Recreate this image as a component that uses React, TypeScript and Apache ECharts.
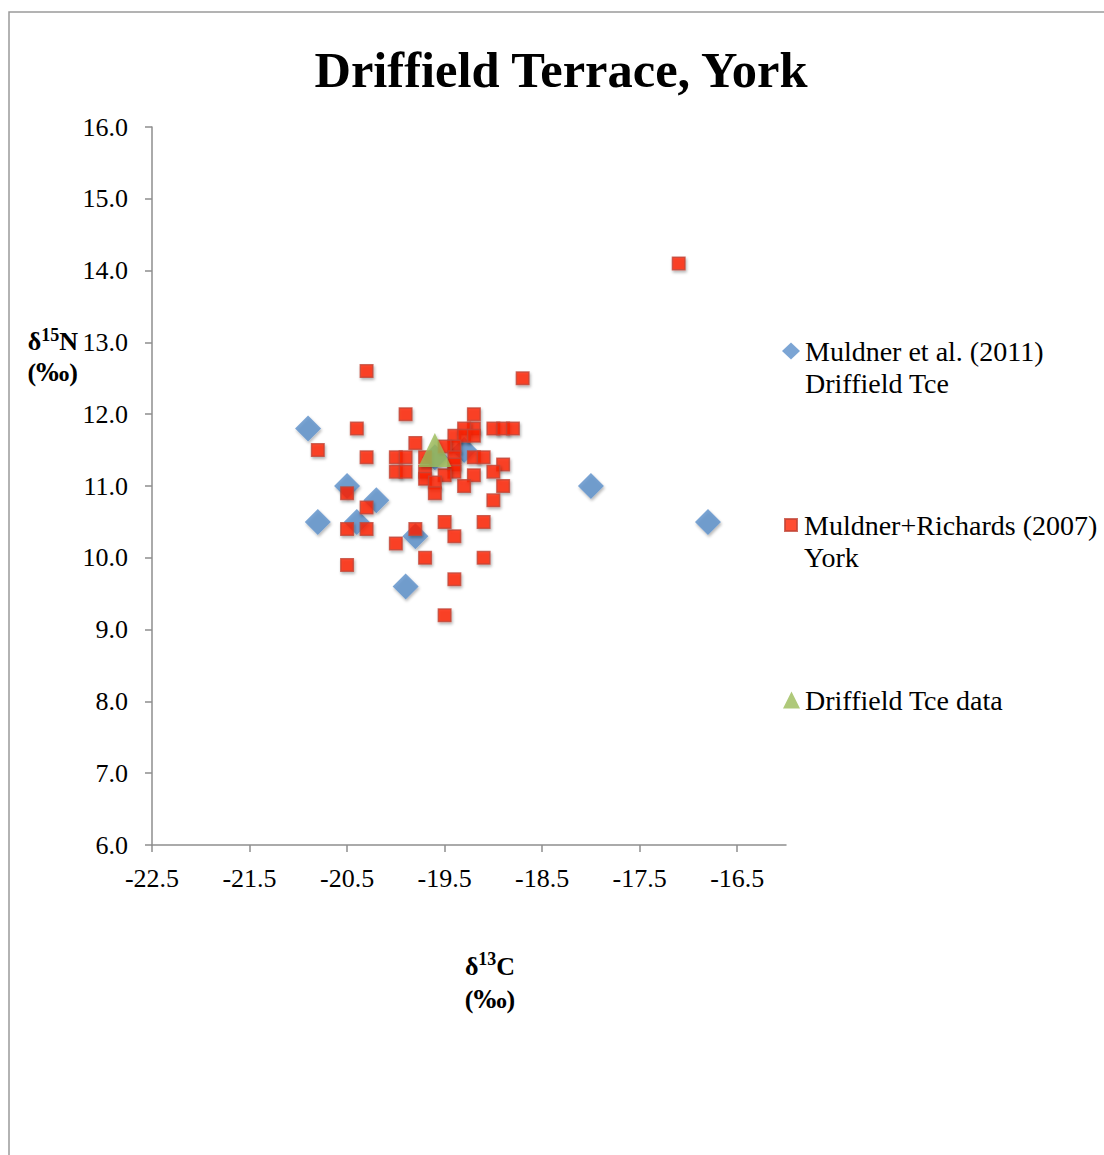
import React, { useEffect, useRef } from "react";
import * as echarts from "echarts";

const SERIF = "'Liberation Serif', 'Times New Roman', serif";
const WIDE_SERIF = "'DejaVu Serif', serif";

const seriesNames = ["Muldner et al. (2011) Driffield Tce", "Muldner+Richards (2007) York", "Driffield Tce data"];
const legendLabels = ["\nMuldner et al. (2011)\nDriffield Tce", "\nMuldner+Richards (2007)\nYork", "Driffield Tce data"];

const muldner2011X = [-20.9, -20.8, -20.5, -20.2, -20.4, -19.8, -19.9, -18.0, -16.8, -19.3, -19.6];
const muldner2011Y = [11.8, 10.5, 11.0, 10.8, 10.5, 10.3, 9.6, 11.0, 10.5, 11.5, 11.4];

const yorkX = [
  -20.3, -18.7, -17.1,
  -19.9, -19.2,
  -20.4, -19.2, -19.3, -19.0, -18.9, -18.8,
  -19.4, -19.3, -19.2,
  -19.8, -19.4, -19.5,
  -20.8,
  -20.3, -20.0, -19.9, -19.7, -19.4, -19.2, -19.1,
  -18.9, -19.4,
  -20.0, -19.9, -19.7, -19.4, -19.0,
  -19.7, -19.5, -19.2,
  -19.6, -19.3, -18.9,
  -20.5, -19.6,
  -19.0,
  -20.3,
  -19.5, -19.1,
  -20.5, -20.3, -19.8,
  -19.4,
  -20.0,
  -19.7, -19.1,
  -20.5,
  -19.4,
  -19.5,
];
const yorkY = [
  12.6, 12.5, 14.1,
  12.0, 12.0,
  11.8, 11.8, 11.8, 11.8, 11.8, 11.8,
  11.7, 11.7, 11.7,
  11.6, 11.55, 11.55,
  11.5,
  11.4, 11.4, 11.4, 11.4, 11.4, 11.4, 11.4,
  11.3, 11.3,
  11.2, 11.2, 11.2, 11.2, 11.2,
  11.1, 11.15, 11.15,
  11.05, 11.0, 11.0,
  10.9, 10.9,
  10.8,
  10.7,
  10.5, 10.5,
  10.4, 10.4, 10.4,
  10.3,
  10.2,
  10.0, 10.0,
  9.9,
  9.7,
  9.2,
];

const driffieldX = [-19.6];
const driffieldY = [11.5];

const xTickValues = [-22.5, -21.5, -20.5, -19.5, -18.5, -17.5, -16.5];
const yMin = 6;
const yMax = 16;
const xMin = -22.5;
const xMax = -16;

const zip = (xs: number[], ys: number[]) => xs.map((x, i) => [x, ys[i]]);

export default function App() {
  const ref = useRef<HTMLDivElement>(null);
  useEffect(() => {
    const chart = echarts.init(ref.current!, null, { renderer: "svg" });
    const shadow = {
      shadowBlur: 3,
      shadowOffsetX: 1,
      shadowOffsetY: 2,
      shadowColor: "rgba(0,0,0,0.35)",
    };
    const legendText = (padLeft: number) => ({
      fontFamily: SERIF,
      fontSize: 28,
      color: "#000",
      lineHeight: 32,
      padding: [0, 0, 0, padLeft],
    });
    const titleRich = (lh: number, supLh: number) => ({
      d: { fontFamily: SERIF, fontSize: 26, fontWeight: "bold", lineHeight: lh, fill: "#000" },
      p: { fontFamily: WIDE_SERIF, fontSize: 24, fontWeight: "bold", lineHeight: lh, fill: "#000" },
      s: { fontFamily: SERIF, fontSize: 18, fontWeight: "bold", lineHeight: supLh, verticalAlign: "top", fill: "#000" },
    });
    const option: any = {
      animation: false,
      backgroundColor: "#fff",
      title: {
        text: "Driffield Terrace, York",
        left: 561,
        top: 44,
        textAlign: "center",
        padding: 0,
        textStyle: { fontFamily: SERIF, fontSize: 50.5, fontWeight: "bold", color: "#000" },
      },
      grid: { left: 152, top: 127, width: 634, height: 718, containLabel: false },
      xAxis: {
        type: "value",
        min: xMin,
        max: xMax,
        axisLine: { show: true, onZero: false, lineStyle: { color: "#8e8e8e", width: 1.5 } },
        axisTick: { show: true, inside: false, length: 7, customValues: xTickValues, lineStyle: { color: "#8e8e8e", width: 1.5 } },
        axisLabel: {
          customValues: xTickValues,
          margin: 20,
          fontFamily: SERIF,
          fontSize: 26,
          color: "#000",
          formatter: (v: number) => v.toFixed(1),
        },
        splitLine: { show: false },
      },
      yAxis: {
        type: "value",
        min: yMin,
        max: yMax,
        interval: 1,
        axisLine: { show: true, onZero: false, lineStyle: { color: "#8e8e8e", width: 1.5 } },
        axisTick: { show: true, inside: false, length: 7, lineStyle: { color: "#8e8e8e", width: 1.5 } },
        axisLabel: {
          margin: 24,
          fontFamily: SERIF,
          fontSize: 26,
          color: "#000",
          formatter: (v: number) => v.toFixed(1),
        },
        splitLine: { show: false },
      },
      legend: [
        {
          data: [{ name: seriesNames[0], icon: "diamond" }],
          orient: "vertical",
          left: 782,
          top: 303,
          padding: 0,
          itemWidth: 18,
          itemHeight: 17,
          selectedMode: false,
          formatter: () => legendLabels[0],
          textStyle: legendText(0),
        },
        {
          data: [{ name: seriesNames[1], icon: "rect" }],
          orient: "vertical",
          left: 784,
          top: 477,
          padding: 0,
          itemWidth: 12,
          itemHeight: 12,
          selectedMode: false,
          formatter: () => legendLabels[1],
          textStyle: legendText(2),
        },
        {
          data: [{ name: seriesNames[2], icon: "triangle" }],
          orient: "vertical",
          left: 783,
          top: 684,
          padding: 0,
          itemWidth: 17,
          itemHeight: 17,
          selectedMode: false,
          formatter: () => legendLabels[2],
          textStyle: legendText(0),
        },
      ],
      graphic: [
        {
          type: "rect",
          silent: true,
          shape: { x: 9, y: 12, width: 1300, height: 1300 },
          style: { fill: "none", stroke: "#9a9a9a", lineWidth: 1.5 },
          z: -1,
        },
        {
          type: "text",
          x: 78,
          y: 326,
          silent: true,
          style: {
            text: "{d|δ}{s|15}{d|N}\n{d|(}{p|‰}{d|)}",
            align: "right",
            verticalAlign: "top",
            rich: titleRich(31, 22),
          },
        },
        {
          type: "text",
          x: 490,
          y: 950,
          silent: true,
          style: {
            text: "{d|δ}{s|13}{d|C}\n{d|(}{p|‰}{d|)}",
            align: "center",
            verticalAlign: "top",
            rich: titleRich(33, 23),
          },
        },
      ],
      series: [
        {
          name: seriesNames[0],
          type: "scatter",
          symbol: "diamond",
          symbolSize: 26,
          data: zip(muldner2011X, muldner2011Y),
          itemStyle: { color: "#5B8FC9", ...shadow },
          z: 2,
        },
        {
          name: seriesNames[1],
          type: "scatter",
          symbol: "rect",
          symbolSize: 12.5,
          data: zip(yorkX, yorkY),
          itemStyle: { color: "#FF2200", borderColor: "#C24536", borderWidth: 1.5, ...shadow },
          z: 3,
        },
        {
          name: seriesNames[2],
          type: "scatter",
          symbol: "triangle",
          symbolSize: [33, 34],
          data: zip(driffieldX, driffieldY),
          itemStyle: { color: "#9BBB59", ...shadow },
          z: 4,
        },
      ],
    };
    chart.setOption(option);
    return () => chart.dispose();
  }, []);
  return (
    <div
      ref={ref}
      style={{ position: "absolute", left: 0, top: 0, width: 1104, height: 1155 }}
    />
  );
}
